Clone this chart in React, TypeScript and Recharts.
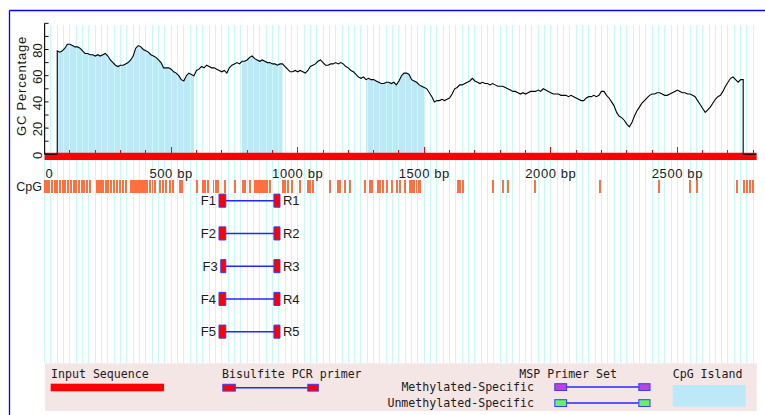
import React from 'react';
import { ComposedChart, Line, Area, XAxis, YAxis, ReferenceLine, ReferenceArea } from 'recharts';

// ---------- data ----------
const SEQ_LENGTH = 2813;
const GC_START = 50;
const GC_STEP = 10;
// GC percentage (100 bp window), every 10 bp from 50 bp to 2760 bp
const gcValues = [
  79, 78, 79, 81, 84,
  84, 83, 82, 82, 81, 79, 77, 77, 76, 76,
  75, 76, 75, 76, 77, 75, 72, 70, 68, 67,
  68, 68, 69, 70, 72, 75, 81, 83, 82, 80,
  79, 78, 76, 75, 74, 72, 70, 66, 66, 66,
  65, 63, 62, 60, 57, 56, 60, 62, 61, 60,
  64, 65, 67, 66, 68, 67, 66, 66, 65, 64,
  63, 64, 62, 66, 68, 69, 70, 69, 71, 71,
  72, 74, 75, 73, 72, 71, 72, 71, 70, 70,
  69, 69, 68, 69, 69, 67, 65, 63, 63, 64,
  63, 64, 63, 62, 64, 67, 68, 69, 71, 72,
  70, 68, 68, 69, 69, 70, 69, 70, 69, 67,
  66, 64, 63, 61, 59, 58, 59, 57, 58, 57,
  57, 56, 55, 54, 54, 55, 55, 54, 55, 53,
  56, 60, 62, 62, 61, 57, 56, 55, 53, 52,
  51, 50, 47, 44, 40, 41, 41, 42, 41, 42,
  43, 46, 50, 51, 53, 53, 54, 55, 56, 58,
  56, 55, 54, 55, 54, 54, 53, 54, 53, 52,
  52, 52, 51, 50, 49, 48, 48, 47, 46, 47,
  46, 47, 48, 48, 48, 49, 48, 50, 49, 48,
  47, 46, 46, 46, 45, 45, 45, 44, 45, 44,
  43, 42, 41, 41, 43, 44, 44, 45, 44, 45,
  48, 48, 45, 43, 40, 37, 32, 29, 28, 26,
  23, 21, 24, 29, 33, 36, 39, 41, 43, 45,
  46, 46, 47, 47, 46, 45, 45, 46, 47, 48,
  49, 48, 47, 47, 46, 46, 45, 44, 41, 38,
  35, 32, 34, 36, 39, 42, 44, 45, 48, 52,
  55, 58, 59, 57, 55, 57, 57,
];
const cpgIslands: [number, number][] = [[50, 590], [780, 940], [1270, 1500]];
const cpgSites = [
  2, 9, 17, 29, 41, 49, 61, 73, 81, 92, 104, 116, 124, 136, 148, 156, 168, 179,
  207, 215, 223, 231, 243, 250, 262, 274, 286, 298, 310, 322,
  341, 349, 357, 365, 373, 381, 389, 397, 405, 417, 425, 436,
  456, 468, 480, 495, 507, 535, 543,
  602, 626, 634, 646, 666, 677, 685, 713, 752, 784, 792, 812,
  831, 839, 847, 855, 863, 871, 879, 891, 942, 950, 962, 978,
  1009, 1041, 1049, 1060, 1128, 1159, 1167, 1187, 1207,
  1266, 1286, 1294, 1317, 1325, 1337, 1353, 1372, 1392, 1404,
  1424, 1444, 1452, 1460, 1468, 1476, 1483,
  1633, 1641, 1653, 1772, 1811, 1831, 1938, 2194, 2427, 2550, 2578,
  2736, 2763, 2775, 2787, 2799,
];
const primerIds = ['1', '2', '3', '4', '5'];
const forwardPrimers: [number, number][] = [[689, 716], [689, 716], [696, 716], [689, 716], [689, 716]];
const reversePrimers: [number, number][] = [[906, 930], [906, 930], [906, 930], [906, 930], [906, 930]];
const yTicks = [0, 10, 20, 30, 40, 50, 60, 70, 80, 90, 100];
const yLabels = [0, 20, 40, 60, 80];
const rulerTicks = [0, 100, 200, 300, 400, 500, 600, 700, 800, 900, 1000, 1100, 1200, 1300, 1400, 1500,
  1600, 1700, 1800, 1900, 2000, 2100, 2200, 2300, 2400, 2500, 2600, 2700, 2800];
const rulerLabels = [0, 500, 1000, 1500, 2000, 2500];
const GRID_STEP = 25;

// ---------- derived tables ----------
const inIsland = (bp: number) => cpgIslands.some(([s, e]) => bp >= s && bp <= e);
const lastBp = GC_START + (gcValues.length - 1) * GC_STEP;
const gcData = [
  { bp: 0, gc: 0, island: null as number | null },
  { bp: GC_START, gc: 0, island: null },
  ...gcValues.map((v, i) => {
    const bp = GC_START + i * GC_STEP;
    return { bp, gc: v, island: inIsland(bp) ? v : null };
  }),
  { bp: lastBp, gc: 0, island: null },
  { bp: SEQ_LENGTH, gc: 0, island: null },
];
const gridPositions: number[] = [];
for (let p = 0; p <= 2800; p += GRID_STEP) gridPositions.push(p);
// extent rows used to anchor the auxiliary panels' scales
const unitExtent = [{ bp: 0, y: 0 }, { bp: SEQ_LENGTH, y: 1 }];
const primerExtent = [{ bp: 0, y: 0.5 }, { bp: SEQ_LENGTH, y: 5.5 }];

// ---------- layout ----------
const W = 765;
const H = 415;
const LEFT = 44.6;
const RIGHT = 8.4;
const SANS = "'Liberation Sans', Arial, sans-serif";
const MONO = "'DejaVu Sans Mono', monospace";
const TEXT = '#1a1a1a';
const ISLAND = '#bde8f7';
const GRID = '#c4fafa';

const layer: React.CSSProperties = { position: 'absolute', left: 0, top: 0 };

const xAxisHidden = (
  <XAxis type="number" dataKey="bp" domain={[0, SEQ_LENGTH]} allowDataOverflow hide />
);
const anchorLine = (
  <Line dataKey="y" stroke="none" dot={false} activeDot={false} isAnimationActive={false} legendType="none" />
);

const YTick = (props: any) => {
  const { y, payload } = props;
  const v = payload.value;
  const ax = LEFT;
  return (
    <g>
      <line x1={ax} x2={ax + 4} y1={y} y2={y} stroke="#111" strokeWidth={1} />
      {yLabels.includes(v) && (
        <text
          x={ax - 2.5}
          y={y + 1}
          transform={`rotate(-90 ${ax - 2.5} ${y + 1})`}
          textAnchor="middle"
          fontFamily={SANS}
          fontSize={13}
          fill={TEXT}
        >
          {v}
        </text>
      )}
    </g>
  );
};

const RulerTick = (props: any) => {
  const { x, payload } = props;
  const v = payload.value;
  const major = v % 500 === 0;
  return (
    <g>
      <line x1={x} x2={x} y1={major ? 147.3 : 150} y2={153} stroke="#ff0000" strokeWidth={1} shapeRendering="crispEdges" />
      {rulerLabels.includes(v) && (
        <text
          x={v === 0 ? x + 1 : x}
          y={178}
          textAnchor={v === 0 ? 'start' : 'middle'}
          fontFamily={SANS}
          fontSize={13}
          letterSpacing={0.6}
          fill={TEXT}
        >
          {v === 0 ? '0' : `${v} bp`}
        </text>
      )}
    </g>
  );
};

export default function App() {
  return (
    <div style={{ position: 'absolute', left: 0, top: 0, width: W, height: H, background: '#fff', overflow: 'hidden' }}>
      {/* CpG island fill under GC curve */}
      <div style={layer}>
        <ComposedChart width={W} height={170} data={gcData} margin={{ top: 23.3, right: RIGHT, bottom: 15.7, left: LEFT }}>
          {xAxisHidden}
          <YAxis type="number" domain={[0, 100]} hide />
          <Area
            dataKey="island"
            type="linear"
            stroke="none"
            fill={ISLAND}
            fillOpacity={1}
            connectNulls={false}
            isAnimationActive={false}
            dot={false}
            activeDot={false}
          />
        </ComposedChart>
      </div>

      {/* vertical grid */}
      <div style={layer}>
        <ComposedChart width={W} height={380} data={unitExtent} margin={{ top: 25, right: RIGHT, bottom: 16.7, left: LEFT }}>
          {xAxisHidden}
          <YAxis type="number" domain={[0, 1]} hide />
          {anchorLine}
          {gridPositions.map((p) => (
            <ReferenceLine key={p} x={p} stroke={GRID} strokeWidth={1} shapeRendering="crispEdges" />
          ))}
        </ComposedChart>
      </div>

      {/* sequence ruler */}
      <div style={layer}>
        <ComposedChart width={W} height={200} data={unitExtent} margin={{ top: 152.7, right: RIGHT, bottom: 10, left: LEFT }}>
          <XAxis
            type="number"
            dataKey="bp"
            domain={[0, SEQ_LENGTH]}
            allowDataOverflow
            ticks={rulerTicks}
            interval={0}
            height={30}
            axisLine={false}
            tickLine={false}
            tickSize={0}
            tick={<RulerTick />}
          />
          <YAxis type="number" domain={[0, 1]} hide />
          {anchorLine}
          <ReferenceArea x1={0} x2={SEQ_LENGTH} y1={0} y2={1} fill="#ff0000" fillOpacity={1} stroke="none" />
        </ComposedChart>
      </div>

      {/* GC curve + y axis */}
      <div style={layer}>
        <ComposedChart width={W} height={170} data={gcData} margin={{ top: 23.3, right: RIGHT, bottom: 15.7, left: LEFT - 30 }}>
          {xAxisHidden}
          <YAxis
            type="number"
            domain={[0, 100]}
            ticks={yTicks}
            interval={0}
            width={30}
            tickSize={0}
            tickMargin={0}
            tickLine={false}
            axisLine={{ stroke: '#111', strokeWidth: 1.2 }}
            tick={<YTick />}
          />
          <Line
            dataKey="gc"
            type="linear"
            stroke="#000"
            strokeWidth={1.1}
            dot={false}
            activeDot={false}
            isAnimationActive={false}
          />
        </ComposedChart>
      </div>

      {/* CpG sites */}
      <div style={layer}>
        <ComposedChart width={W} height={200} data={unitExtent} margin={{ top: 180, right: RIGHT, bottom: 7, left: LEFT }}>
          {xAxisHidden}
          <YAxis type="number" domain={[0, 1]} hide />
          {anchorLine}
          {cpgSites.map((s) => (
            <ReferenceLine key={s} x={s} stroke="#ff7040" strokeWidth={1.3} shapeRendering="crispEdges" />
          ))}
        </ComposedChart>
      </div>

      {/* bisulfite primers */}
      <div style={layer}>
        <ComposedChart width={W} height={360} data={primerExtent} margin={{ top: 184.3, right: RIGHT, bottom: 12, left: LEFT }}>
          {xAxisHidden}
          <YAxis type="number" domain={[0.5, 5.5]} reversed hide />
          {anchorLine}
          {primerIds.map((id, i) => (
            <ReferenceLine
              key={'l' + id}
              segment={[{ x: forwardPrimers[i][1], y: i + 1 }, { x: reversePrimers[i][0], y: i + 1 }]}
              stroke="#2626ff"
              strokeWidth={1.5}
            />
          ))}
          {primerIds.map((id, i) => (
            <ReferenceArea
              key={'f' + id}
              x1={forwardPrimers[i][0]}
              x2={forwardPrimers[i][1]}
              y1={i + 1 - 0.2}
              y2={i + 1 + 0.2}
              fill="#ff0000"
              fillOpacity={1}
              stroke="#3a3aff"
              strokeWidth={1}
              label={{ value: 'F' + id, position: 'left', offset: 3, fill: TEXT, fontSize: 13, fontFamily: SANS }}
            />
          ))}
          {primerIds.map((id, i) => (
            <ReferenceArea
              key={'r' + id}
              x1={reversePrimers[i][0]}
              x2={reversePrimers[i][1]}
              y1={i + 1 - 0.2}
              y2={i + 1 + 0.2}
              fill="#ff0000"
              fillOpacity={1}
              stroke="#3a3aff"
              strokeWidth={1}
              label={{ value: 'R' + id, position: 'right', offset: 3, fill: TEXT, fontSize: 13, fontFamily: SANS }}
            />
          ))}
        </ComposedChart>
      </div>

      {/* labels, legend, frame */}
      <svg width={W} height={H} style={layer}>
        <text
          x={25.5}
          y={86}
          transform="rotate(-90 25.5 86)"
          textAnchor="middle"
          fontFamily={SANS}
          fontSize={13}
          letterSpacing={0.8}
          fill={TEXT}
        >
          GC Percentage
        </text>
        <text x={42} y={191} textAnchor="end" fontFamily={SANS} fontSize={12.5} fill={TEXT}>
          CpG
        </text>

        <rect x={45} y={363.3} width={711.7} height={47.7} fill="#f5e6e6" />
        <g fontFamily={MONO} fontSize={11.6} fill={TEXT}>
          <text x={51} y={378}>Input Sequence</text>
          <text x={222} y={378}>Bisulfite PCR primer</text>
          <text x={617} y={378} textAnchor="end">MSP Primer Set</text>
          <text x={534} y={390.5} textAnchor="end">Methylated-Specific</text>
          <text x={534} y={406.5} textAnchor="end">Unmethylated-Specific</text>
          <text x={672.7} y={378}>CpG Island</text>
        </g>
        <rect x={50.7} y={383.7} width={113.3} height={7.6} fill="#ff0000" />
        <line x1={235} x2={308} y1={387.7} y2={387.7} stroke="#2626ff" strokeWidth={1.5} />
        <rect x={222.8} y={384.3} width={12.5} height={6.8} fill="#ff0000" stroke="#3a3aff" strokeWidth={1} />
        <rect x={307.8} y={384.3} width={10.5} height={6.8} fill="#ff0000" stroke="#3a3aff" strokeWidth={1} />
        <line x1={566} x2={639} y1={387} y2={387} stroke="#2626ff" strokeWidth={1.5} />
        <rect x={554.8} y={383.7} width={11.8} height={6.8} fill="#bb44dd" stroke="#3a3aff" strokeWidth={1} />
        <rect x={638.8} y={383.7} width={11.2} height={6.8} fill="#bb44dd" stroke="#3a3aff" strokeWidth={1} />
        <line x1={566} x2={639} y1={403} y2={403} stroke="#2626ff" strokeWidth={1.5} />
        <rect x={554.8} y={399.7} width={11.8} height={6.8} fill="#66f266" stroke="#3a3aff" strokeWidth={1} />
        <rect x={638.8} y={399.7} width={11.2} height={6.8} fill="#66f266" stroke="#3a3aff" strokeWidth={1} />
        <rect x={672.7} y={385} width={73} height={21.7} fill={ISLAND} />

        <line x1={9.5} x2={W} y1={10.5} y2={10.5} stroke="#0000ff" strokeWidth={1.3} />
        <line x1={9.5} x2={9.5} y1={10.5} y2={H} stroke="#0000ff" strokeWidth={1.3} />
      </svg>
    </div>
  );
}
